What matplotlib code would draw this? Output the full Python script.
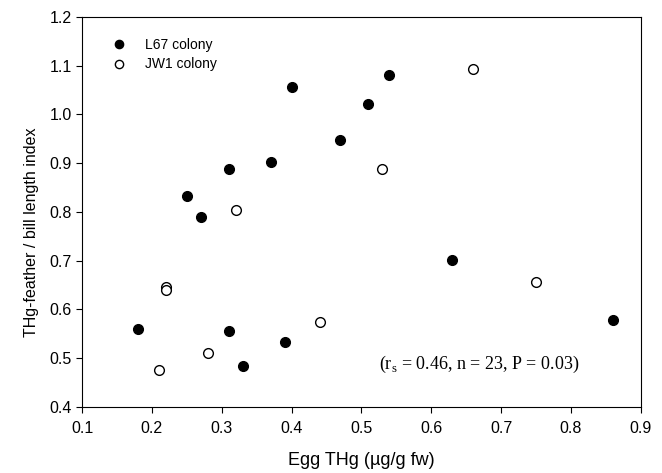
import numpy as np
import matplotlib.pyplot as plt

plt.rcParams['font.family'] = ['Liberation Sans', 'DejaVu Sans']

#### data
l67_x = [0.18, 0.25, 0.27, 0.31, 0.31, 0.33, 0.37, 0.39, 0.40, 0.47, 0.51, 0.54, 0.63, 0.86]
l67_y = [0.560, 0.833, 0.790, 0.888, 0.555, 0.483, 0.902, 0.533, 1.056, 0.948, 1.021, 1.081, 0.702, 0.579]

jw1_x = [0.21, 0.22, 0.22, 0.28, 0.32, 0.44, 0.53, 0.66, 0.75]
jw1_y = [0.475, 0.645, 0.640, 0.511, 0.803, 0.574, 0.888, 1.094, 0.657]

xticks = [0.1, 0.2, 0.3, 0.4, 0.5, 0.6, 0.7, 0.8, 0.9]
yticks = [0.4, 0.5, 0.6, 0.7, 0.8, 0.9, 1.0, 1.1, 1.2]

fig = plt.figure(figsize=(6.62, 4.73), dpi=100)
ax = fig.add_axes([0.124, 0.140, 0.844, 0.824])

ax.plot(l67_x, l67_y, 'o', color='black', markersize=7, label="L67 colony")
ax.plot(jw1_x, jw1_y, 'o', markerfacecolor='white', markeredgecolor='black',
        markeredgewidth=1.0, markersize=7, label="JW1 colony")

ax.set_xlim(0.1, 0.9)
ax.set_ylim(0.4, 1.2)
ax.set_xticks(xticks)
ax.set_yticks(yticks)
ax.set_xticklabels([f"{v:.1f}" for v in xticks])
ax.set_yticklabels([f"{v:.1f}" for v in yticks])
ax.tick_params(direction='out', length=4, labelsize=11.5, top=False, right=False)
ax.tick_params(axis='x', pad=6)

ax.set_xlabel("Egg THg (µg/g fw)", fontsize=13)
ax.xaxis.set_label_coords(0.5, -0.115)
ax.set_ylabel("THg-feather / bill length index", fontsize=11.5)
ax.yaxis.set_label_coords(-0.077, 0.449)

ax.legend(loc='upper left', bbox_to_anchor=(0.027, 0.982), frameon=False,
          fontsize=10, handletextpad=1.27, borderaxespad=0.6,
          labelspacing=0.4, handlelength=1.2, markerscale=0.85)

ax.text(0.668, 0.487, r"(r$_\mathregular{s}$ = 0.46, n = 23, P = 0.03)",
        fontsize=13, family=['Liberation Serif', 'DejaVu Serif'],
        ha='center', va='center')

plt.savefig("out.png", dpi=100)
